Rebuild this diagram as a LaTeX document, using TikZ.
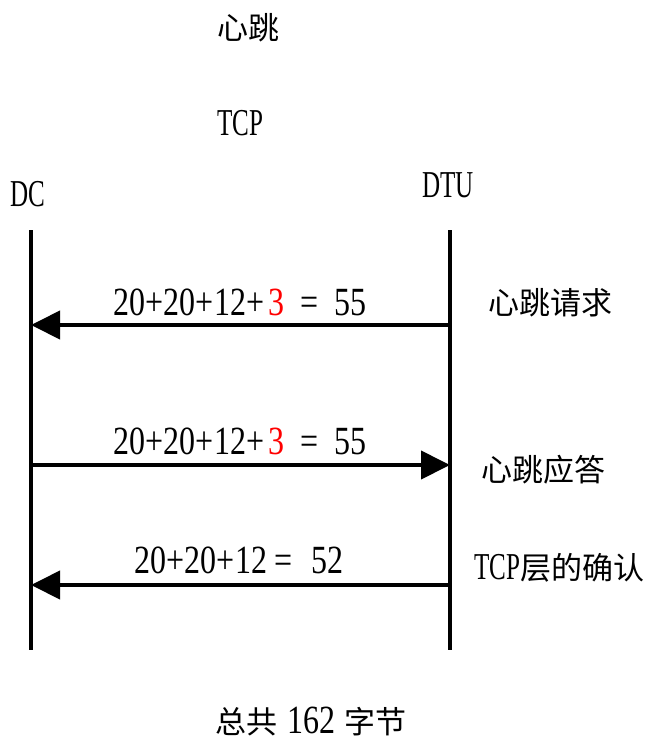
\documentclass[tikz,border=0pt]{standalone}
\usepackage{fontspec}
\setmainfont{Liberation Serif}
\newfontfamily\cjk{Noto Sans CJK SC}
\newfontfamily\numf[FakeStretch=0.8]{Liberation Serif}
\newfontfamily\latf[FakeStretch=0.66]{Liberation Serif}
\usetikzlibrary{arrows.meta}
\tikzset{
  cn/.style={font=\cjk\fontsize{31}{34}\selectfont, inner sep=0pt},
  num/.style={font=\numf\fontsize{40}{44}\selectfont, inner sep=0pt},
  lat/.style={font=\latf\fontsize{38}{42}\selectfont, inner sep=0pt},
  life/.style={line width=3.5pt},
  msg/.style={line width=4pt, -{Triangle[length=29pt,width=28pt]}},
}
\begin{document}
\begin{tikzpicture}[x=1pt,y=-1pt]
\useasboundingbox (0,0) rectangle (650,745);
% titles
\node[cn] (title) at (248,28) {心跳};
\node[lat] (tcp) at (240,123) {TCP};
\node[lat] (dc) at (28,194) {DC};
\node[lat] (dtu) at (448,185) {DTU};
% lifelines
\coordinate (dcTop) at (31,230);
\coordinate (dcBot) at (31,650);
\coordinate (dtuTop) at (450,230);
\coordinate (dtuBot) at (450,650);
\draw[life] (dcTop) -- (dcBot);
\draw[life] (dtuTop) -- (dtuBot);
% message endpoints
\coordinate (m1L) at (31,325);
\coordinate (m1R) at (450,325);
\coordinate (m2L) at (31,465);
\coordinate (m2R) at (450,465);
\coordinate (m3L) at (31,585);
\coordinate (m3R) at (450,585);
\draw[msg] (m1R) -- (m1L);
\draw[msg] (m2L) -- (m2R);
\draw[msg] (m3R) -- (m3L);
% message labels
\node[num] (l1) at (240,302) {20+20+12+\hspace{0.1em}\textcolor{red}{3}\hspace{0.4em}=\hspace{0.4em}55};
\node[num] (l2) at (240,441) {20+20+12+\hspace{0.1em}\textcolor{red}{3}\hspace{0.4em}=\hspace{0.4em}55};
\node[num] (l3) at (239,560) {20+20+12\hspace{0.2em}=\hspace{0.45em}52};
% side notes
\node[cn] (n1) at (550,303) {心跳请求};
\node[cn] (n2) at (543,470) {心跳应答};
\node[cn] (n3) at (559,568) {{\latf\fontsize{38}{42}\selectfont TCP}层的确认};
% total
\node[cn] (total) at (311,722) {总共\hspace{0.3em}{\numf\fontsize{40}{44}\selectfont 162}\hspace{0.3em}字节};
\end{tikzpicture}
\end{document}
